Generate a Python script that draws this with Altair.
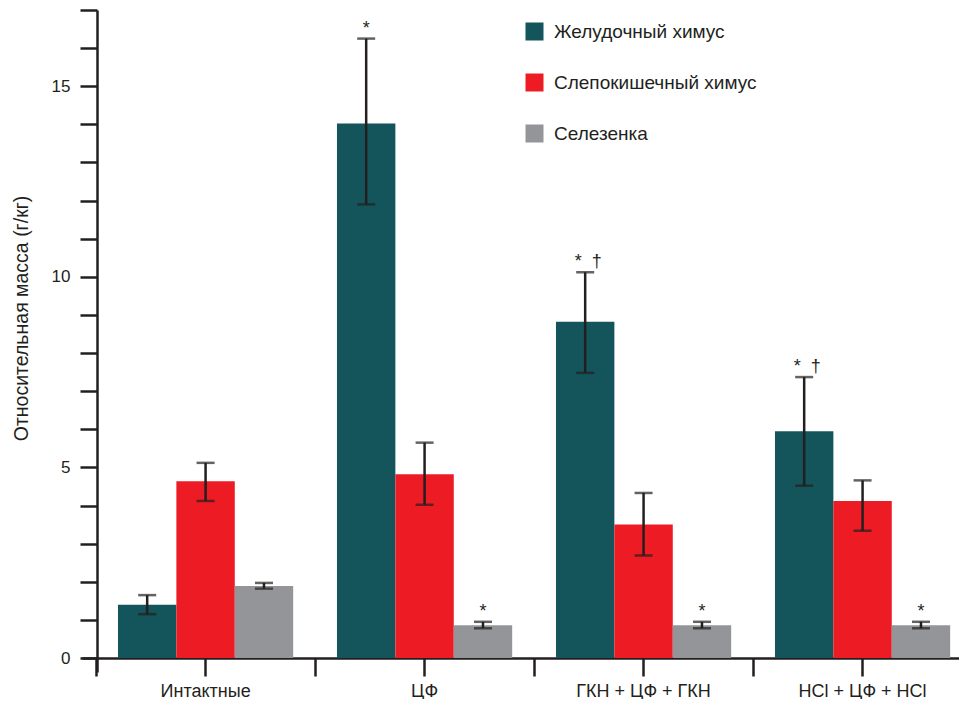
import altair as alt
import pandas as pd

groups = ["Интактные", "ЦФ", "ГКН + ЦФ + ГКН", "HCl + ЦФ + HCl"]
series = ["Желудочный химус", "Слепокишечный химус", "Селезенка"]
colors = ["#13555a", "#ed1c24", "#939598"]

gastric = [1.40, 14.02, 8.82, 5.95]
gastric_lo = [1.15, 11.90, 7.48, 4.52]
gastric_hi = [1.65, 16.25, 10.12, 7.37]
gastric_mark = ["", "*", "*\u00a0\u00a0†", "*\u00a0\u00a0†"]

cecal = [4.64, 4.82, 3.50, 4.12]
cecal_lo = [4.12, 4.02, 2.69, 3.34]
cecal_hi = [5.12, 5.65, 4.33, 4.66]
cecal_mark = ["", "", "", ""]

spleen = [1.89, 0.86, 0.86, 0.86]
spleen_lo = [1.82, 0.78, 0.78, 0.78]
spleen_hi = [1.97, 0.95, 0.95, 0.95]
spleen_mark = ["", "*", "*", "*"]

y_ticks = list(range(0, 18))
y_title = "Относительная масса (г/кг)"

rows = []
for s, vals, los, his, marks in [
    (series[0], gastric, gastric_lo, gastric_hi, gastric_mark),
    (series[1], cecal, cecal_lo, cecal_hi, cecal_mark),
    (series[2], spleen, spleen_lo, spleen_hi, spleen_mark),
]:
    for g, v, lo, hi, m in zip(groups, vals, los, his, marks):
        rows.append({"group": g, "series": s, "value": v, "lo": lo, "hi": hi, "mark": m})
df = pd.DataFrame(rows)

ink = "#231f20"
FONT = "Liberation Sans"

xscale = alt.Scale(domain=groups, paddingInner=0.2, paddingOuter=0.1023, align=0.803)
yscale = alt.Scale(domain=[-0.367, 17], nice=False, zero=False)
xo = alt.XOffset("series:N", sort=series,
                 scale=alt.Scale(domain=series, paddingInner=0, paddingOuter=0))

x_main = alt.X("group:N", sort=groups, scale=xscale, title=None,
               axis=alt.Axis(orient="bottom", offset=-14, labelAngle=0, labelFontSize=18,
                             labelColor=ink, labelPadding=6, labelFont=FONT,
                             tickSize=18, tickWidth=2.5, tickColor=ink,
                             domainColor=ink, domainWidth=2.5, grid=False))
x_bound = alt.X("group:N", sort=groups, scale=xscale, title=None,
                axis=alt.Axis(orient="bottom", offset=-14, labels=False, domain=False,
                              bandPosition=0, tickOffset=-21.9,
                              tickSize=18, tickWidth=2.5, tickColor=ink, grid=False))
x_plain = alt.X("group:N", sort=groups, scale=xscale, axis=None)

y_axis = alt.Axis(orient="left", offset=-15, values=y_ticks,
                  labelExpr="datum.value % 5 === 0 ? datum.label : ''",
                  labelOverlap=False,
                  tickSize=17, tickWidth=2.5, tickColor=ink,
                  domainColor=ink, domainWidth=2.5,
                  labelFontSize=17, labelColor=ink, labelPadding=10, labelFont=FONT,
                  titleFontSize=19.5, titleFontWeight="normal", titleColor=ink,
                  titleFont=FONT, titlePadding=20, titleY=308, grid=False)


def y_enc(field):
    return alt.Y(field, scale=yscale, title=y_title, axis=y_axis)


bars = alt.Chart(df).mark_bar().encode(
    x=x_main,
    xOffset=xo,
    y=y_enc("value:Q"),
    color=alt.Color("series:N", sort=series,
                    scale=alt.Scale(domain=series, range=colors),
                    legend=alt.Legend(orient="none", legendX=443, legendY=12, title=None,
                                      symbolType="square", symbolSize=324,
                                      symbolStrokeWidth=0, labelFontSize=19,
                                      labelFont=FONT, labelColor=ink, labelOffset=10,
                                      labelLimit=400, rowPadding=31, padding=0)),
)

err = alt.Chart(df).mark_rule(color=ink, strokeWidth=2.5).encode(
    x=x_bound, xOffset=xo, y=y_enc("lo:Q"), y2="hi:Q")

cap_lo = alt.Chart(df).mark_tick(color=ink, thickness=2.5, size=18, orient="horizontal").encode(
    x=x_plain, xOffset=xo, y=y_enc("lo:Q"))
cap_hi = alt.Chart(df).mark_tick(color=ink, thickness=2.5, size=18, orient="horizontal").encode(
    x=x_plain, xOffset=xo, y=y_enc("hi:Q"))

stars = alt.Chart(df).transform_filter("datum.mark === '*'").mark_text(
    fontSize=18, dy=-5, baseline="alphabetic", color=ink, font=FONT).encode(
    x=x_plain, xOffset=xo, y=y_enc("hi:Q"), text="mark:N")
pairs = alt.Chart(df).transform_filter("length(datum.mark) > 1").mark_text(
    fontSize=18, dy=-5, dx=3, baseline="alphabetic", color=ink, font=FONT).encode(
    x=x_plain, xOffset=xo, y=y_enc("hi:Q"), text="mark:N")

chart = alt.layer(bars, err, cap_lo, cap_hi, stars, pairs).resolve_axis(
    x="independent"
).properties(
    width=877, height=662,
    autosize=alt.AutoSizeParams(type="none"),
    padding={"left": 74, "top": 2, "right": 0, "bottom": 27},
).configure_view(stroke=None)

chart.save("out.html", embed_options={"renderer": "svg", "actions": False})
